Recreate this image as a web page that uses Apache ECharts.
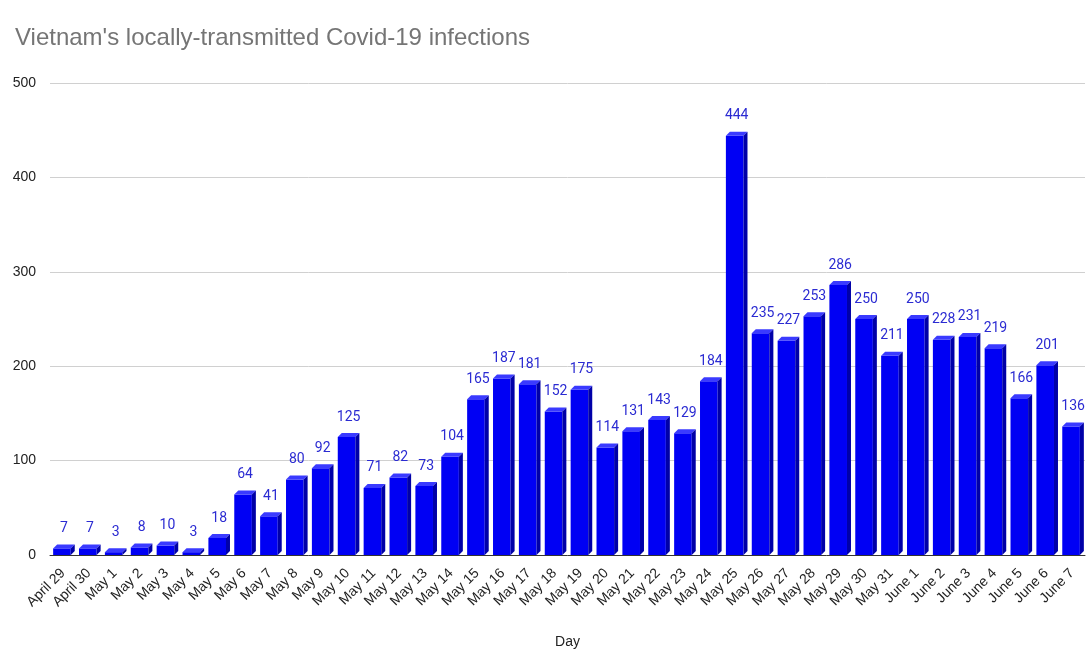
<!DOCTYPE html>
<html>
<head>
<meta charset="utf-8">
<script src="https://cdn.jsdelivr.net/npm/echarts@6/dist/echarts.min.js"></script>
<style>
  html, body { margin: 0; padding: 0; background: #fff; }
  #chart { width: 1092px; height: 667px; }
</style>
</head>
<body>
<div id="chart"></div>
<script>
// Data
var days = [
  "April 29", "April 30", "May 1", "May 2", "May 3", "May 4", "May 5", "May 6",
  "May 7", "May 8", "May 9", "May 10", "May 11", "May 12", "May 13", "May 14",
  "May 15", "May 16", "May 17", "May 18", "May 19", "May 20", "May 21", "May 22",
  "May 23", "May 24", "May 25", "May 26", "May 27", "May 28", "May 29", "May 30",
  "May 31", "June 1", "June 2", "June 3", "June 4", "June 5", "June 6", "June 7"
];
var infections = [
  7, 7, 3, 8, 10, 3, 18, 64,
  41, 80, 92, 125, 71, 82, 73, 104,
  165, 187, 181, 152, 175, 114, 131, 143,
  129, 184, 444, 235, 227, 253, 286, 250,
  211, 250, 228, 231, 219, 166, 201, 136
];

var chart = echarts.init(document.getElementById("chart"));
var arial = "'Liberation Sans', Arial, sans-serif";

// draw a fake 3d bar: front face, lighter top, darker side
function renderBar3d(params, api) {
  var idx = api.value(0);
  var val = api.value(1);
  var base = api.coord([idx, 0]);
  var top = api.coord([idx, val]);
  var bw = api.size([1, 0])[0] * 0.68;
  var d = 4;
  var x = top[0] - bw / 2 - 1;
  var y = top[1];
  var b = base[1];
  return {
    type: "group",
    children: [
      {
        type: "rect",
        shape: { x: x, y: y, width: bw, height: b - y },
        style: { fill: "#0000f4" }
      },
      {
        type: "polygon",
        shape: { points: [[x, y], [x + d, y - d], [x + bw + d, y - d], [x + bw, y]] },
        style: { fill: "#3a3aff" }
      },
      {
        type: "polygon",
        shape: { points: [[x + bw, y], [x + bw + d, y - d], [x + bw + d, b - d], [x + bw, b]] },
        style: { fill: "#0000a8" }
      },
      {
        type: "text",
        style: {
          text: String(val),
          x: x + (bw + d) / 2,
          y: y - d - 9,
          align: "center",
          verticalAlign: "bottom",
          fill: "#2b2bd2",
          font: "14px Roboto, 'Liberation Sans', sans-serif"
        }
      }
    ]
  };
}

var option = {
  backgroundColor: "#fff",
  animation: false,
  title: {
    text: "Vietnam's locally-transmitted Covid-19 infections",
    left: 10,
    top: 21,
    textStyle: {
      color: "#757575",
      fontSize: 24,
      fontWeight: "normal",
      fontFamily: arial
    }
  },
  grid: { left: 50, right: 7, top: 83, bottom: 112 },
  xAxis: {
    type: "category",
    data: days,
    name: "Day",
    nameLocation: "middle",
    nameGap: 80,
    nameTextStyle: { color: "#222", fontSize: 14, fontFamily: arial },
    axisLine: { lineStyle: { color: "#333", width: 1 } },
    axisTick: { show: false },
    axisLabel: {
      rotate: 45,
      interval: 0,
      margin: 16,
      color: "#222",
      fontSize: 14,
      fontFamily: arial
    }
  },
  yAxis: {
    type: "value",
    min: 0,
    max: 500,
    interval: 100,
    axisLine: { show: false },
    axisTick: { show: false },
    axisLabel: {
      margin: 14,
      color: "#222",
      fontSize: 14,
      fontFamily: arial
    },
    splitLine: { lineStyle: { color: "#d0d0d0" } }
  },
  series: [
    {
      type: "custom",
      renderItem: renderBar3d,
      encode: { x: 0, y: 1 },
      data: infections.map(function (v, i) { return [i, v]; })
    }
  ]
};

chart.setOption(option);
</script>
</body>
</html>
